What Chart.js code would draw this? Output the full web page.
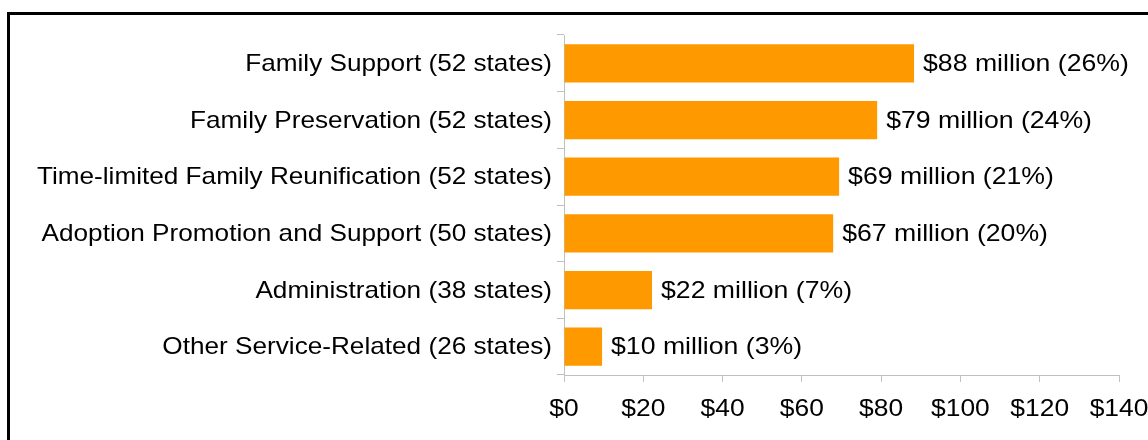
<!DOCTYPE html>
<html>
<head>
<meta charset="utf-8">
<script src="https://cdn.jsdelivr.net/npm/chart.js@4"></script>
<style>
  html, body { margin: 0; padding: 0; background: #fff; }
  #wrap { width: 1148px; height: 440px; position: relative; }
</style>
</head>
<body>
<div id="wrap"><canvas id="c" width="1148" height="440"></canvas></div>
<script>
const categories = [
  "Family Support (52 states)",
  "Family Preservation (52 states)",
  "Time-limited Family Reunification (52 states)",
  "Adoption Promotion and Support (50 states)",
  "Administration (38 states)",
  "Other Service-Related (26 states)"
];
const values = [88.3, 79.0, 69.4, 67.9, 22.2, 9.6];
const valueLabels = [
  "$88 million (26%)",
  "$79 million (24%)",
  "$69 million (21%)",
  "$67 million (20%)",
  "$22 million (7%)",
  "$10 million (3%)"
];
const xTicks = [0, 20, 40, 60, 80, 100, 120, 140];

const FONT = "Liberation Sans, Arial, sans-serif";
const FS = 24;

function stretchedText(ctx, text, x, y, align, sx) {
  ctx.save();
  ctx.translate(x, y);
  ctx.scale(sx, 1);
  ctx.textAlign = align;
  ctx.textBaseline = 'middle';
  ctx.fillText(text, 0, 0);
  ctx.restore();
}

const framePlugin = {
  id: 'frame',
  beforeDraw(chart) {
    const ctx = chart.ctx;
    ctx.save();
    ctx.fillStyle = '#fff';
    ctx.fillRect(0, 0, chart.width, chart.height);
    ctx.strokeStyle = '#000';
    ctx.lineWidth = 3;
    ctx.beginPath();
    ctx.moveTo(8.5, 440);
    ctx.lineTo(8.5, 13.5);
    ctx.lineTo(1148, 13.5);
    ctx.stroke();
    ctx.restore();
  }
};

const textPlugin = {
  id: 'texts',
  afterDraw(chart) {
    const ctx = chart.ctx;
    const meta = chart.getDatasetMeta(0);
    const xs = chart.scales.x, ys = chart.scales.y;
    ctx.save();
    ctx.font = FS + 'px ' + FONT;
    ctx.fillStyle = '#000';
    meta.data.forEach((bar, i) => {
      stretchedText(ctx, valueLabels[i], bar.x + 9, bar.y + 1, 'left', 1.11);
    });
    categories.forEach((c, i) => {
      stretchedText(ctx, c, ys.left + ys.width - 12, ys.getPixelForValue(i) + 1, 'right', 1.09);
    });
    xTicks.forEach(v => {
      stretchedText(ctx, '$' + v, xs.getPixelForValue(v), xs.bottom - xs.height + 34, 'center', 1.1);
    });
    ctx.restore();
  }
};

new Chart(document.getElementById('c'), {
  type: 'bar',
  data: {
    labels: categories,
    datasets: [{
      data: values,
      backgroundColor: '#ff9900',
      borderWidth: 0,
      categoryPercentage: 1.0,
      barPercentage: 0.675
    }]
  },
  options: {
    indexAxis: 'y',
    responsive: false,
    animation: false,
    devicePixelRatio: 1,
    layout: { padding: { left: 0, right: 29, top: 35, bottom: 0 } },
    plugins: { legend: { display: false }, tooltip: { enabled: false } },
    scales: {
      x: {
        min: 0, max: 140,
        afterBuildTicks(scale) { scale.ticks = xTicks.map(v => ({ value: v })); },
        afterFit(scale) { scale.height = 65; },
        grid: { drawOnChartArea: false, drawTicks: true, tickLength: 7, color: '#c0c0c0' },
        border: { color: '#c0c0c0', width: 1 },
        ticks: { display: false }
      },
      y: {
        afterFit(scale) { scale.width = 564; },
        grid: { drawOnChartArea: false, drawTicks: true, tickLength: 7, color: '#c0c0c0', offset: true },
        border: { color: '#c0c0c0', width: 1 },
        ticks: { display: false }
      }
    }
  },
  plugins: [framePlugin, textPlugin]
});
</script>
</body>
</html>
